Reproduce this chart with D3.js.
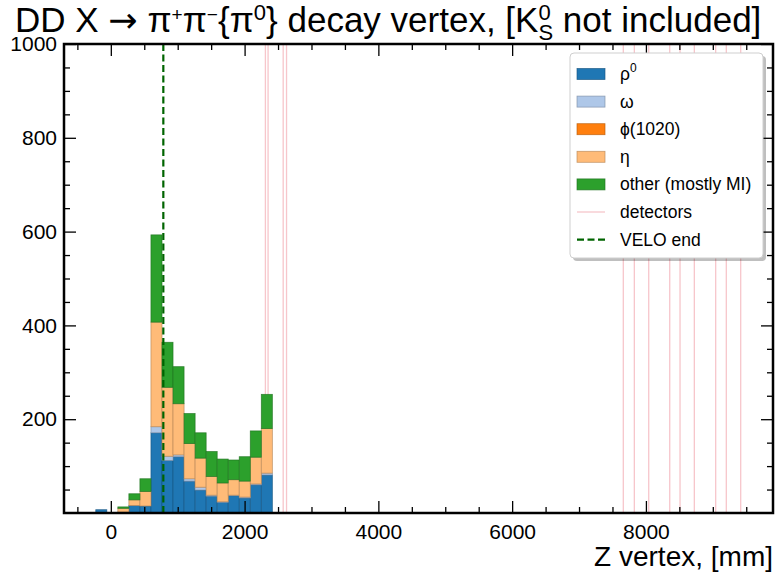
<!DOCTYPE html>
<html><head><meta charset="utf-8">
<script src="https://cdn.jsdelivr.net/npm/d3@7"></script>
<style>
body{margin:0;background:#fff}
svg{display:block}
text{font-family:"Liberation Sans",Arial,Helvetica,sans-serif;fill:#000}
</style>
</head><body>
<svg id="c" width="777" height="572"></svg>
<script>
// ---- data ----
const binEdges = [-225,-60,105,270,435,600,765,930,1095,1260,1425,1590,1755,1920,2085,2250,2415];
const rho   = [7,0,2,16,15,171,112,120,68,49,36,23,37,32,60,81];
const omega = [0,0,0,0,0,13,9,4,5,6,2,1,1,2,2,4];
const phi   = [0,0,0,0,0,0,0,0,0,0,0,0,0,0,0,0];
const eta   = [0,0,8,12,31,223,147,109,75,62,40,40,33,34,57,95];
const other = [0,0,3,13,27,186,96,79,64,54,53,51,42,52,56,73];
const seriesNames = ["rho","omega","phi","eta","other"];
const seriesColors = ["#1f77b4","#aec7e8","#ff7f0e","#ffbb78","#2ca02c"];
const detectors = [2311,2351,2577,2627,7662,7827,8042,8356,8510,8724,9043,9202,9417];
const veloEnd = 785;
const xTicks = [0,2000,4000,6000,8000];
const yTicks = [200,400,600,800,1000];
const xDomain = [-700,9900];
const yDomain = [0,1000];

// ---- layout ----
const svg = d3.select("#c");
const L=64, R=773, T=44, B=513;
const x = d3.scaleLinear().domain(xDomain).range([L,R]);
const y = d3.scaleLinear().domain(yDomain).range([B,T]);

const rows = binEdges.slice(0,-1).map((e,i)=>({x0:e,x1:binEdges[i+1],rho:rho[i],omega:omega[i],phi:phi[i],eta:eta[i],other:other[i]}));
const stack = d3.stack().keys(seriesNames)(rows);

// detectors (behind)
svg.append("g").selectAll("line").data(detectors).join("line")
  .attr("x1",d=>x(d)).attr("x2",d=>x(d)).attr("y1",T).attr("y2",B)
  .attr("stroke","#f5b3ba").attr("stroke-width",1.3).attr("opacity",0.75);

// bars
const gb = svg.append("g");
stack.forEach((s,k)=>{
  gb.append("g").selectAll("rect").data(s.filter(d=>d[1]-d[0]>0)).join("rect")
    .attr("x",d=>x(d.data.x0)).attr("width",d=>x(d.data.x1)-x(d.data.x0))
    .attr("y",d=>y(d[1])).attr("height",d=>y(d[0])-y(d[1]))
    .attr("fill",seriesColors[k])
    .attr("stroke",d3.color(seriesColors[k]).darker(0.9)).attr("stroke-width",0.8).attr("stroke-opacity",0.8);
});

// VELO end
svg.append("line").attr("x1",x(veloEnd)).attr("x2",x(veloEnd)).attr("y1",T).attr("y2",B)
  .attr("stroke","#006400").attr("stroke-width",2.2).attr("stroke-dasharray","7,3.5");

// axes
const fmt = d3.format("d");
const minorX = d3.range(-500,9900,500).filter(v=>!xTicks.includes(v));
const minorY = d3.range(50,1000,50).filter(v=>!yTicks.includes(v));
function styleAxis(g){ g.select(".domain").remove(); g.selectAll(".tick line").attr("stroke","#000").attr("stroke-width",1.3); g.selectAll("text").attr("font-size",21).attr("font-family","Liberation Sans, Arial, sans-serif"); }
svg.append("g").attr("transform",`translate(0,${B})`).call(d3.axisBottom(x).tickValues(xTicks).tickFormat(fmt).tickSizeInner(-12).tickSizeOuter(0).tickPadding(11)).call(styleAxis);
svg.append("g").attr("transform",`translate(0,${B})`).call(d3.axisBottom(x).tickValues(minorX).tickSizeInner(-6).tickSizeOuter(0).tickFormat("")).call(styleAxis);
svg.append("g").attr("transform",`translate(0,${T})`).call(d3.axisTop(x).tickValues(xTicks).tickSizeInner(-12).tickSizeOuter(0).tickFormat("")).call(styleAxis);
svg.append("g").attr("transform",`translate(0,${T})`).call(d3.axisTop(x).tickValues(minorX).tickSizeInner(-6).tickSizeOuter(0).tickFormat("")).call(styleAxis);
svg.append("g").attr("transform",`translate(${L},0)`).call(d3.axisLeft(y).tickValues(yTicks).tickFormat(fmt).tickSizeInner(-12).tickSizeOuter(0).tickPadding(7)).call(styleAxis);
svg.append("g").attr("transform",`translate(${L},0)`).call(d3.axisLeft(y).tickValues(minorY).tickSizeInner(-6).tickSizeOuter(0).tickFormat("")).call(styleAxis);
svg.append("g").attr("transform",`translate(${R},0)`).call(d3.axisRight(y).tickValues(yTicks).tickSizeInner(-12).tickSizeOuter(0).tickFormat("")).call(styleAxis);
svg.append("g").attr("transform",`translate(${R},0)`).call(d3.axisRight(y).tickValues(minorY).tickSizeInner(-6).tickSizeOuter(0).tickFormat("")).call(styleAxis);

// frame
svg.append("rect").attr("x",L).attr("y",T).attr("width",R-L).attr("height",B-T)
  .attr("fill","none").attr("stroke","#000").attr("stroke-width",2.5);

// x label
svg.append("text").attr("x",R).attr("y",566).attr("text-anchor","end").attr("font-size",28).text("Z vertex, [mm]");

// title
const tg = svg.append("g");
const t = tg.append("text").attr("x",0).attr("y",0).attr("font-size",35);
t.append("tspan").text("DD X ");
t.append("tspan").attr("font-family","DejaVu Sans").text("\u2192");
t.append("tspan").text(" \u03c0");
t.append("tspan").attr("dy",-11).attr("font-size",19).text("+");
t.append("tspan").attr("dy",11).text("\u03c0");
t.append("tspan").attr("dy",-11).attr("font-size",19).text("\u2212");
t.append("tspan").attr("dy",11).text("{\u03c0");
t.append("tspan").attr("dy",-12).attr("font-size",22).text("0");
t.append("tspan").attr("dy",12).text("} decay vertex, [K");
t.append("tspan").attr("dy",-12).attr("font-size",22).text("0");
t.append("tspan").attr("dx",-12.2).attr("dy",20).attr("font-size",22).text("S");
t.append("tspan").attr("dy",-8).text(" not included]");
const bb = t.node().getBBox();
const sx = Math.min(1, 757/bb.width);
tg.attr("transform",`translate(${15 - bb.x*sx},32) scale(${sx},1)`);

// legend
const lg = svg.append("g");
lg.append("rect").attr("x",573).attr("y",56).attr("width",193).attr("height",205).attr("rx",4)
  .attr("fill","#000").attr("opacity",0.25);
lg.append("rect").attr("x",570).attr("y",53).attr("width",193).attr("height",205).attr("rx",4)
  .attr("fill","#fff").attr("stroke","#cfcfcf").attr("stroke-width",1);
const labels = ["\u03c1","\u03c9","\u03d5(1020)","\u03b7","other (mostly MI)","detectors","VELO end"];
const rowY = d => 74 + d*27.6;
labels.forEach((lab,i)=>{
  const yy = rowY(i);
  if(i<5){
    lg.append("rect").attr("x",577).attr("y",yy-5.5).attr("width",28).attr("height",11)
      .attr("fill",seriesColors[i]).attr("stroke",d3.color(seriesColors[i]).darker(0.9)).attr("stroke-width",0.8).attr("stroke-opacity",0.8);
  } else if(i===5){
    lg.append("line").attr("x1",577).attr("x2",605).attr("y1",yy).attr("y2",yy).attr("stroke","#f5b3ba").attr("stroke-width",1.3).attr("opacity",0.75);
  } else {
    lg.append("line").attr("x1",577).attr("x2",605).attr("y1",yy).attr("y2",yy).attr("stroke","#006400").attr("stroke-width",2.2).attr("stroke-dasharray","7,3.5");
  }
  const tx = lg.append("text").attr("x",620).attr("y",yy+6).attr("font-size",17.5).text(lab);
  if(i===0) tx.append("tspan").attr("dy",-8).attr("font-size",12).text("0");
});
</script>
</body></html>
